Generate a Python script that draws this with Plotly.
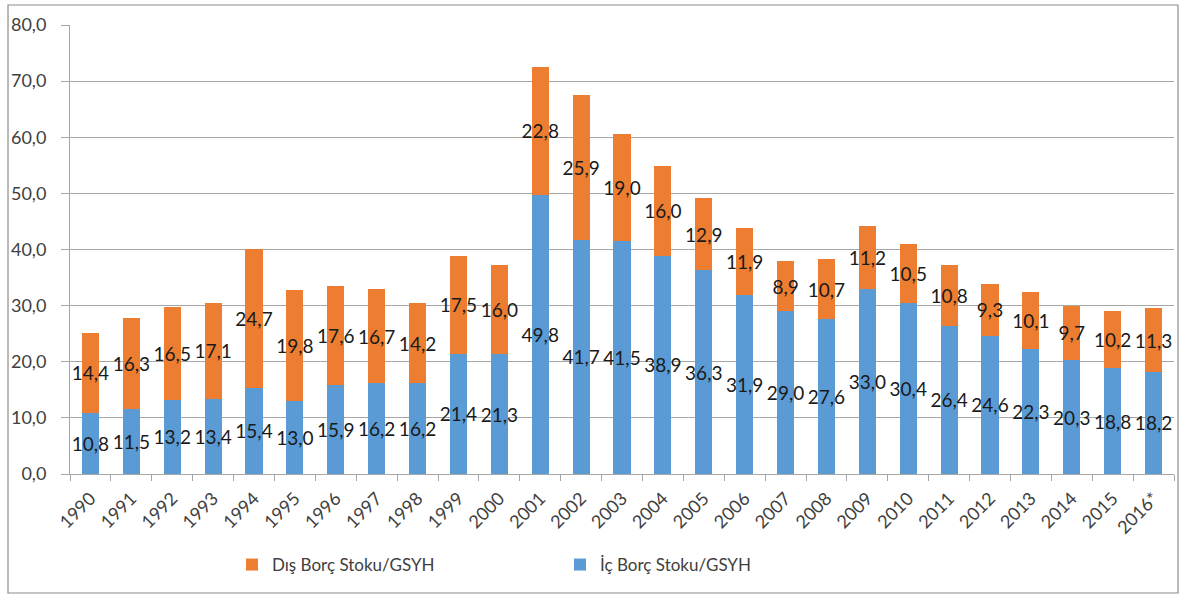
import plotly.graph_objects as go

years = ["1990", "1991", "1992", "1993", "1994", "1995", "1996", "1997", "1998",
         "1999", "2000", "2001", "2002", "2003", "2004", "2005", "2006", "2007",
         "2008", "2009", "2010", "2011", "2012", "2013", "2014", "2015", "2016*"]

ic_borc = [10.8, 11.5, 13.2, 13.4, 15.4, 13.0, 15.9, 16.2, 16.2, 21.4, 21.3, 49.8,
           41.7, 41.5, 38.9, 36.3, 31.9, 29.0, 27.6, 33.0, 30.4, 26.4, 24.6, 22.3,
           20.3, 18.8, 18.2]

dis_borc = [14.4, 16.3, 16.5, 17.1, 24.7, 19.8, 17.6, 16.7, 14.2, 17.5, 16.0, 22.8,
            25.9, 19.0, 16.0, 12.9, 11.9, 8.9, 10.7, 11.2, 10.5, 10.8, 9.3, 10.1,
            9.7, 10.2, 11.3]

FONT = "Lato"
label_font = dict(family=FONT, size=19, color="#1a1a1a")

fig = go.Figure()
fig.add_trace(go.Bar(
    x=years, y=ic_borc, name="İç Borç Stoku/GSYH",
    marker=dict(color="#5b9bd5", line=dict(width=0)),
    texttemplate="%{y:.1f}", textposition="inside", insidetextanchor="middle",
    textangle=0, constraintext="none", insidetextfont=label_font,
))
fig.add_trace(go.Bar(
    x=years, y=dis_borc, name="Dış Borç Stoku/GSYH",
    marker=dict(color="#ed7d31", line=dict(width=0)),
    texttemplate="%{y:.1f}", textposition="inside", insidetextanchor="middle",
    textangle=0, constraintext="none", insidetextfont=label_font,
))

# plot area: x 70..1174, y 25..474 (pixels)
L, R, T, B = 70, 10, 25, 123
W, H = 1184 - L - R, 597 - T - B

def px_x(x):
    return (x - L) / W

def px_y(y):
    return (597 - B - y) / H

fig.add_shape(type="rect", xref="paper", yref="paper",
              x0=px_x(8), x1=px_x(1178), y0=px_y(593), y1=px_y(5),
              line=dict(color="#8c8c8c", width=1.2), fillcolor="rgba(0,0,0,0)",
              layer="below")

fig.update_layout(
    barmode="stack",
    bargap=0.58,
    width=1184, height=597,
    margin=dict(l=L, r=R, t=T, b=B),
    paper_bgcolor="white", plot_bgcolor="white",
    separators=",.",
    font=dict(family=FONT, color="#404040"),
    showlegend=True,
    legend=dict(
        orientation="h", traceorder="reversed",
        x=px_x(232), xanchor="left", y=px_y(547), yanchor="top",
        entrywidth=283, entrywidthmode="pixels",
        font=dict(family=FONT, size=17, color="#404040"),
        itemsizing="constant", bgcolor="rgba(0,0,0,0)",
    ),
    xaxis=dict(
        type="category", tickangle=-45, tickson="boundaries",
        ticks="outside", ticklen=6, tickcolor="#a6a6a6",
        showline=True, linecolor="#a6a6a6", linewidth=1,
        tickfont=dict(family=FONT, size=18, color="#404040"),
        ticklabelstandoff=6,
        showgrid=False,
    ),
    yaxis=dict(
        range=[0, 80], dtick=10, tickformat=".1f",
        ticks="outside", ticklen=8, tickcolor="#a6a6a6",
        showline=True, linecolor="#a6a6a6", linewidth=1,
        showgrid=True, gridcolor="#a6a6a6", gridwidth=1,
        zeroline=False,
        tickfont=dict(family=FONT, size=18, color="#404040"),
        ticklabelstandoff=11,
    ),
)

fig.write_html("out.html")
